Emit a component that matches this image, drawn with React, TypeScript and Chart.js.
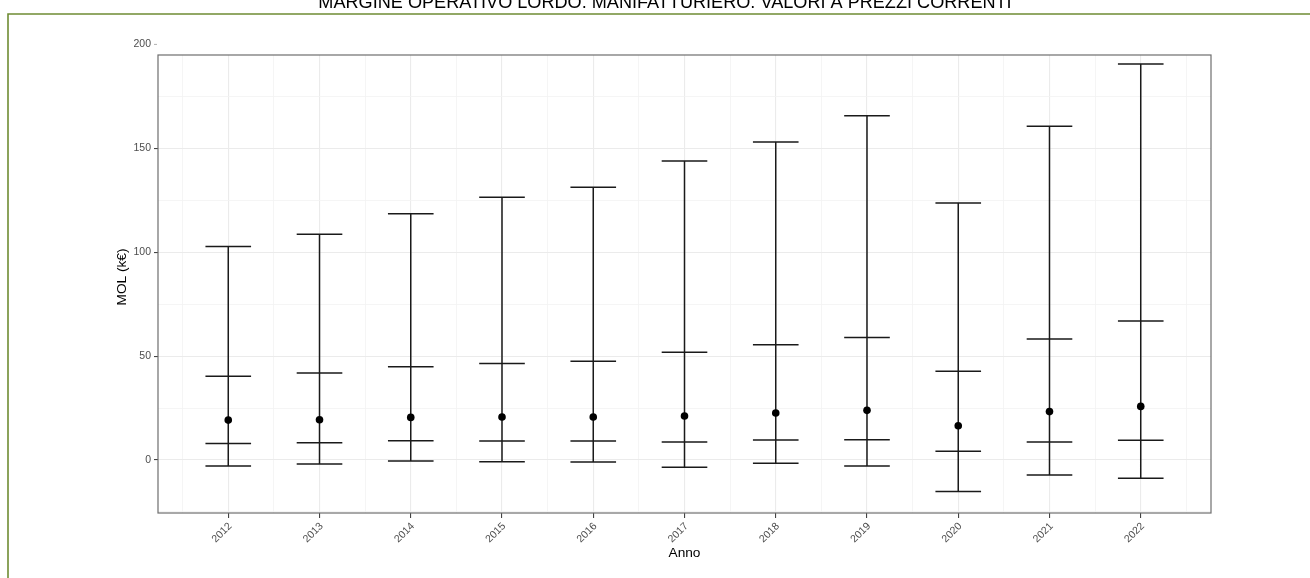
import React, { useEffect, useRef } from "react";
import { Chart, registerables } from "chart.js";

Chart.register(...registerables);

// ---- Data ----
const years = [2012, 2013, 2014, 2015, 2016, 2017, 2018, 2019, 2020, 2021, 2022];
const highValues = [102.8, 108.6, 118.5, 126.4, 131.2, 143.9, 153.0, 165.7, 123.7, 160.6, 190.6];
const q3Values = [40.3, 41.9, 44.9, 46.4, 47.5, 51.8, 55.5, 59.0, 42.7, 58.2, 66.9];
const pointValues = [19.2, 19.4, 20.5, 20.7, 20.7, 21.2, 22.6, 23.9, 16.5, 23.3, 25.8];
const q1Values = [8.0, 8.3, 9.3, 9.1, 9.1, 8.7, 9.6, 9.8, 4.2, 8.7, 9.5];
const lowValues = [-2.9, -1.9, -0.5, -0.8, -1.0, -3.5, -1.6, -2.9, -15.1, -7.2, -8.8];

const yTicks = [-25, 0, 25, 50, 75, 100, 125, 150, 175];
const yLabelTicks = [0, 50, 100, 150];
const yOuterTick = 200;
const xTicks = [2011.5, 2012, 2012.5, 2013, 2013.5, 2014, 2014.5, 2015, 2015.5, 2016, 2016.5, 2017, 2017.5, 2018, 2018.5, 2019, 2019.5, 2020, 2020.5, 2021, 2021.5, 2022, 2022.5];

const titleText = "MARGINE OPERATIVO LORDO. MANIFATTURIERO. VALORI A PREZZI CORRENTI";
const yTitle = "MOL (k€)";
const xTitle = "Anno";

const CAP_HALF = 0.25;
const FONT = '"Liberation Sans", Arial, sans-serif';

function capData(values: number[]) {
  const out: any[] = [];
  years.forEach((yr, i) => {
    out.push({ x: yr - CAP_HALF, y: values[i] });
    out.push({ x: yr + CAP_HALF, y: values[i] });
    out.push({ x: yr, y: null });
  });
  return out;
}

function whiskerData() {
  const out: any[] = [];
  years.forEach((yr, i) => {
    out.push({ x: yr, y: lowValues[i] });
    out.push({ x: yr, y: highValues[i] });
    out.push({ x: yr, y: null });
  });
  return out;
}

const decorPlugin = {
  id: "decor",
  beforeDraw(chart: any) {
    const ctx = chart.ctx as CanvasRenderingContext2D;
    ctx.save();
    ctx.fillStyle = "#ffffff";
    ctx.fillRect(0, 0, chart.width, chart.height);
    // green frame
    ctx.strokeStyle = "#6f8c33";
    ctx.lineWidth = 1.6;
    ctx.beginPath();
    ctx.moveTo(8, chart.height);
    ctx.lineTo(8, 14);
    ctx.lineTo(chart.width, 14);
    ctx.stroke();
    // title (clipped at top in the reference)
    ctx.font = `16px ${FONT}`;
    const w = ctx.measureText(titleText).width;
    const size = (16 * 694) / w;
    ctx.font = `${size}px ${FONT}`;
    ctx.fillStyle = "#000000";
    ctx.textAlign = "center";
    ctx.textBaseline = "alphabetic";
    ctx.fillText(titleText, 665, 7.5);
    ctx.restore();
  },
  afterDraw(chart: any) {
    const ctx = chart.ctx as CanvasRenderingContext2D;
    const a = chart.chartArea;
    const yScale = chart.scales.y;
    ctx.save();
    // panel border
    ctx.strokeStyle = "#6e6e6e";
    ctx.lineWidth = 1.2;
    ctx.strokeRect(a.left, a.top, a.right - a.left, a.bottom - a.top);
    // outer "200" label above panel
    const y200 = yScale.getPixelForValue(yOuterTick);
    ctx.strokeStyle = "#b0b0b0";
    ctx.lineWidth = 1;
    ctx.beginPath();
    ctx.moveTo(a.left - 4, y200);
    ctx.lineTo(a.left - 1, y200);
    ctx.stroke();
    ctx.fillStyle = "#4d4d4d";
    ctx.font = `10.5px ${FONT}`;
    ctx.textAlign = "right";
    ctx.textBaseline = "middle";
    ctx.fillText(String(yOuterTick), a.left - 7, y200);
    // axis titles
    ctx.fillStyle = "#000000";
    ctx.font = `13.7px ${FONT}`;
    ctx.textAlign = "center";
    ctx.textBaseline = "middle";
    ctx.fillText(xTitle, (a.left + a.right) / 2, 553);
    ctx.translate(122.5, 277);
    ctx.rotate(-Math.PI / 2);
    ctx.fillText(yTitle, 0, 0);
    ctx.restore();
  },
};

export default function App() {
  const canvasRef = useRef<HTMLCanvasElement | null>(null);

  useEffect(() => {
    document.body.style.margin = "0";
    const canvas = canvasRef.current;
    if (!canvas) return;
    const lineColor = "#1a1a1a";
    const chart = new Chart(canvas, {
      type: "scatter",
      data: {
        datasets: [
          {
            label: "valore",
            data: years.map((yr, i) => ({ x: yr, y: pointValues[i] })),
            backgroundColor: "#000000",
            borderWidth: 0,
            pointRadius: 3.8,
            showLine: false,
            order: 0,
          },
          {
            label: "whisker",
            data: whiskerData(),
            borderColor: lineColor,
            borderWidth: 1.5,
            pointRadius: 0,
            showLine: true,
            spanGaps: false,
            order: 1,
          },
          {
            label: "high",
            data: capData(highValues),
            borderColor: lineColor,
            borderWidth: 1.5,
            pointRadius: 0,
            showLine: true,
            spanGaps: false,
            order: 2,
          },
          {
            label: "q3",
            data: capData(q3Values),
            borderColor: lineColor,
            borderWidth: 1.5,
            pointRadius: 0,
            showLine: true,
            spanGaps: false,
            order: 2,
          },
          {
            label: "q1",
            data: capData(q1Values),
            borderColor: lineColor,
            borderWidth: 1.5,
            pointRadius: 0,
            showLine: true,
            spanGaps: false,
            order: 2,
          },
          {
            label: "low",
            data: capData(lowValues),
            borderColor: lineColor,
            borderWidth: 1.5,
            pointRadius: 0,
            showLine: true,
            spanGaps: false,
            order: 2,
          },
        ],
      },
      options: {
        responsive: false,
        animation: false,
        devicePixelRatio: 1,
        layout: { padding: { left: 0, right: 99, top: 55, bottom: 0 } },
        plugins: {
          legend: { display: false },
          tooltip: { enabled: false },
          title: { display: false },
        },
        scales: {
          x: {
            type: "linear",
            min: 2011.23,
            max: 2022.77,
            afterBuildTicks: (axis: any) => {
              axis.ticks = xTicks.map((v) => ({ value: v }));
            },
            afterFit: (scale: any) => {
              scale.height = 65;
            },
            border: { display: false },
            grid: {
              color: (c: any) => (Number.isInteger(c.tick?.value) ? "#ebebeb" : "#f3f3f3"),
              lineWidth: (c: any) => (Number.isInteger(c.tick?.value) ? 1.1 : 0.8),
              tickColor: (c: any) => (Number.isInteger(c.tick?.value) ? "#444444" : "rgba(0,0,0,0)"),
              tickLength: 5,
            },
            ticks: {
              autoSkip: false,
              minRotation: 45,
              maxRotation: 45,
              padding: 2,
              labelOffset: 2,
              color: "#4d4d4d",
              font: { family: FONT, size: 10.5 },
              callback: (v: any) => (Number.isInteger(v) ? String(v) : ""),
            },
          },
          y: {
            type: "linear",
            min: -25.5,
            max: 194.9,
            afterBuildTicks: (axis: any) => {
              axis.ticks = yTicks.map((v) => ({ value: v }));
            },
            afterFit: (scale: any) => {
              scale.width = 158;
            },
            border: { display: false },
            grid: {
              color: (c: any) => (yLabelTicks.includes(c.tick?.value) ? "#ebebeb" : "#f3f3f3"),
              lineWidth: (c: any) => (yLabelTicks.includes(c.tick?.value) ? 1.1 : 0.8),
              tickColor: (c: any) => (yLabelTicks.includes(c.tick?.value) ? "#444444" : "rgba(0,0,0,0)"),
              tickLength: 4,
            },
            ticks: {
              autoSkip: false,
              padding: 3,
              color: "#4d4d4d",
              font: { family: FONT, size: 10.5 },
              callback: (v: any) => (yLabelTicks.includes(v) ? String(v) : ""),
            },
          },
        },
      },
      plugins: [decorPlugin],
    });
    return () => {
      chart.destroy();
    };
  }, []);

  return (
    <div style={{ position: "absolute", left: 0, top: 0, width: 1310, height: 578 }}>
      <canvas ref={canvasRef} width={1310} height={578} style={{ display: "block" }} />
    </div>
  );
}
